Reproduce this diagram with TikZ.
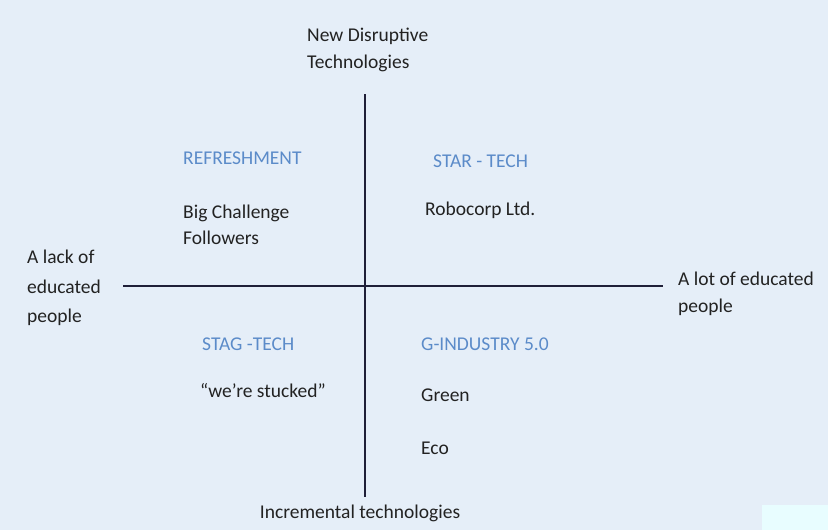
\documentclass[tikz,border=0pt]{standalone}
\usepackage{fontspec}
\setmainfont{Carlito}
\usetikzlibrary{positioning}

\definecolor{paper}{HTML}{E5EEF8}
\definecolor{patch}{HTML}{E8FDFF}
\definecolor{quadblue}{HTML}{5B8BC9}
\definecolor{ink}{HTML}{222222}

\begin{document}
\begin{tikzpicture}[x=1pt,y=-1pt,
    axislabel/.style={font=\fontsize{19.5}{27}\selectfont, text=ink, align=left, inner sep=0pt, anchor=west},
    quadname/.style={font=\fontsize{19.5}{27}\selectfont, text=quadblue, inner sep=0pt, anchor=west},
    quaditem/.style={font=\fontsize{19.5}{26}\selectfont, text=ink, align=left, inner sep=0pt, anchor=west},
    axis/.style={draw=ink!90!blue, line width=2.2pt}
    ]

    \fill[paper] (0,0) rectangle (828,530);
    \fill[patch] (762,505) rectangle (828,530);

    % axis ends
    \node[axislabel] (a_up) at (307,50) {New Disruptive\\Technologies};
    \node[axislabel, anchor=center] (a_down) at (360,513) {Incremental technologies};
    \node[axislabel, font=\fontsize{19.5}{29.5}\selectfont] (a_left) at (27,288) {A lack of\\educated\\people};
    \node[axislabel] (a_right) at (678,294) {A lot of educated\\people};

    \coordinate (v_top) at (365,94);
    \coordinate (v_bot) at (365,497);
    \coordinate (h_left) at (123,286);
    \coordinate (h_right) at (663,286);

    \draw[axis] (v_top) -- (v_bot);
    \draw[axis] (h_left) -- (h_right);

    % quadrants
    \node[quadname] (q_refresh) at (183,158) {REFRESHMENT};
    \node[quaditem] (i_big) at (183,225) {Big Challenge\\Followers};

    \node[quadname] (q_star) at (433,161) {STAR - TECH};
    \node[quaditem] (i_robo) at (425,210) {Robocorp Ltd.};

    \node[quadname] (q_stag) at (202,344) {STAG -TECH};
    \node[quaditem] (i_stuck) at (200,391) {“we’re stucked”};

    \node[quadname] (q_gind) at (421,344) {G-INDUSTRY 5.0};
    \node[quaditem] (i_green) [below=51pt of q_gind.west, anchor=west] {Green};
    \node[quaditem] (i_eco) [below=53pt of i_green.west, anchor=west] {Eco};
\end{tikzpicture}
\end{document}
